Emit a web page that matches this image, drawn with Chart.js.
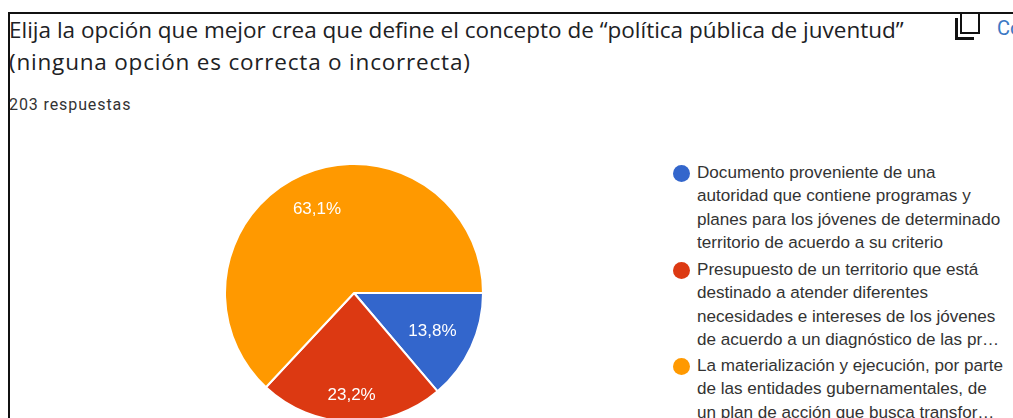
<!DOCTYPE html>
<html lang="es">
<head>
<meta charset="utf-8">
<title>Política pública de juventud</title>
<script src="https://cdn.jsdelivr.net/npm/chart.js@4"></script>
<style>
html, body { margin: 0; padding: 0; width: 1013px; height: 418px; overflow: hidden; background: #fff; }
#frame { position: absolute; left: 8px; top: 12px; width: 1005px; height: 406px; border-left: 2px solid #111; border-top: 2px solid #111; box-sizing: border-box; }
.title { position: absolute; left: 9px; font: 22.5px "Open Sans", sans-serif; color: #202124; white-space: nowrap; }
#count { position: absolute; left: 9px; top: 95px; font: 16px Roboto, sans-serif; letter-spacing: 0.9px; color: #333; white-space: nowrap; }
#copy { position: absolute; left: 997px; top: 16px; width: 16px; overflow: hidden; font: 20px Roboto, sans-serif; color: #3b78c4; }
#icon1 { position: absolute; left: 960px; top: 13px; width: 20px; height: 21px; border: 2px solid #111; border-top: none; box-sizing: border-box; }
#icon2 { position: absolute; left: 955px; top: 18px; width: 19px; height: 22px; border-left: 3px solid #111; border-bottom: 3px solid #111; box-sizing: border-box; }
#pieBox { position: absolute; left: 224px; top: 163px; width: 260px; height: 260px; }
#legend { position: absolute; left: 0; top: 0; }
.line { position: absolute; left: 697px; font: 17.1px/20px "Liberation Sans", Arial, sans-serif; color: #333; white-space: nowrap; }
.dot { position: absolute; left: 672.5px; width: 17px; height: 17px; border-radius: 50%; }
</style>
</head>
<body>
<div id="frame"></div>
<div class="title" style="top:14px">Elija la opción que mejor crea que define el concepto de “política pública de juventud”</div>
<div class="title" style="top:46px;letter-spacing:0.8px">(ninguna opción es correcta o incorrecta)</div>
<div id="count">203 respuestas</div>
<div id="icon1"></div><div id="icon2"></div>
<div id="copy">Co</div>
<div id="pieBox"><canvas id="pie"></canvas></div>
<div id="legend"></div>
<script>
const categories = [
    ['Documento proveniente de una', 'autoridad que contiene programas y', 'planes para los jóvenes de determinado', 'territorio de acuerdo a su criterio'],
    ['Presupuesto de un territorio que está', 'destinado a atender diferentes', 'necesidades e intereses de los jóvenes', 'de acuerdo a un diagnóstico de las pr…'],
    ['La materialización y ejecución, por parte', 'de las entidades gubernamentales, de', 'un plan de acción que busca transfor…']
];
const values = [13.8, 23.2, 63.1];
const sliceLabels = ['13,8%', '23,2%', '63,1%'];
const colors = ['#3366cc', '#dc3912', '#ff9900'];

// how far out each percentage sits, as a share of the radius
const labelDistance = [0.67, 0.78, 0.72];

// legend is plain html, one row per wrapped line
const legendTops = [163, 260, 356];
const lineStep = 23.4;
const legend = document.getElementById('legend');
categories.forEach(function (lines, i) {
    const dot = document.createElement('div');
    dot.className = 'dot';
    dot.style.top = (legendTops[i] + 1.5) + 'px';
    dot.style.background = colors[i];
    legend.appendChild(dot);
    lines.forEach(function (text, j) {
        const row = document.createElement('div');
        row.className = 'line';
        row.style.top = (legendTops[i] + j * lineStep) + 'px';
        row.textContent = text;
        legend.appendChild(row);
    });
});

const sliceText = {
    id: 'sliceText',
    afterDatasetsDraw(chart) {
        const ctx = chart.ctx;
        ctx.save();
        ctx.font = '17px "Liberation Sans", Arial, sans-serif';
        ctx.fillStyle = '#fff';
        ctx.textAlign = 'center';
        ctx.textBaseline = 'middle';
        chart.getDatasetMeta(0).data.forEach(function (arc, i) {
            const mid = (arc.startAngle + arc.endAngle) / 2;
            const r = arc.outerRadius * labelDistance[i];
            ctx.fillText(sliceLabels[i], arc.x + Math.cos(mid) * r, arc.y + Math.sin(mid) * r + 2);
        });
        ctx.restore();
    }
};

new Chart(document.getElementById('pie'), {
    type: 'pie',
    data: {
        labels: categories.map(function (c) { return c.join(' '); }),
        datasets: [{
            data: values,
            backgroundColor: colors,
            borderColor: '#fff',
            borderWidth: 2
        }]
    },
    options: {
        responsive: true,
        maintainAspectRatio: true,
        animation: false,
        rotation: 90,
        plugins: {
            legend: { display: false },
            tooltip: { enabled: false }
        }
    },
    plugins: [sliceText]
});
</script>
</body>
</html>
